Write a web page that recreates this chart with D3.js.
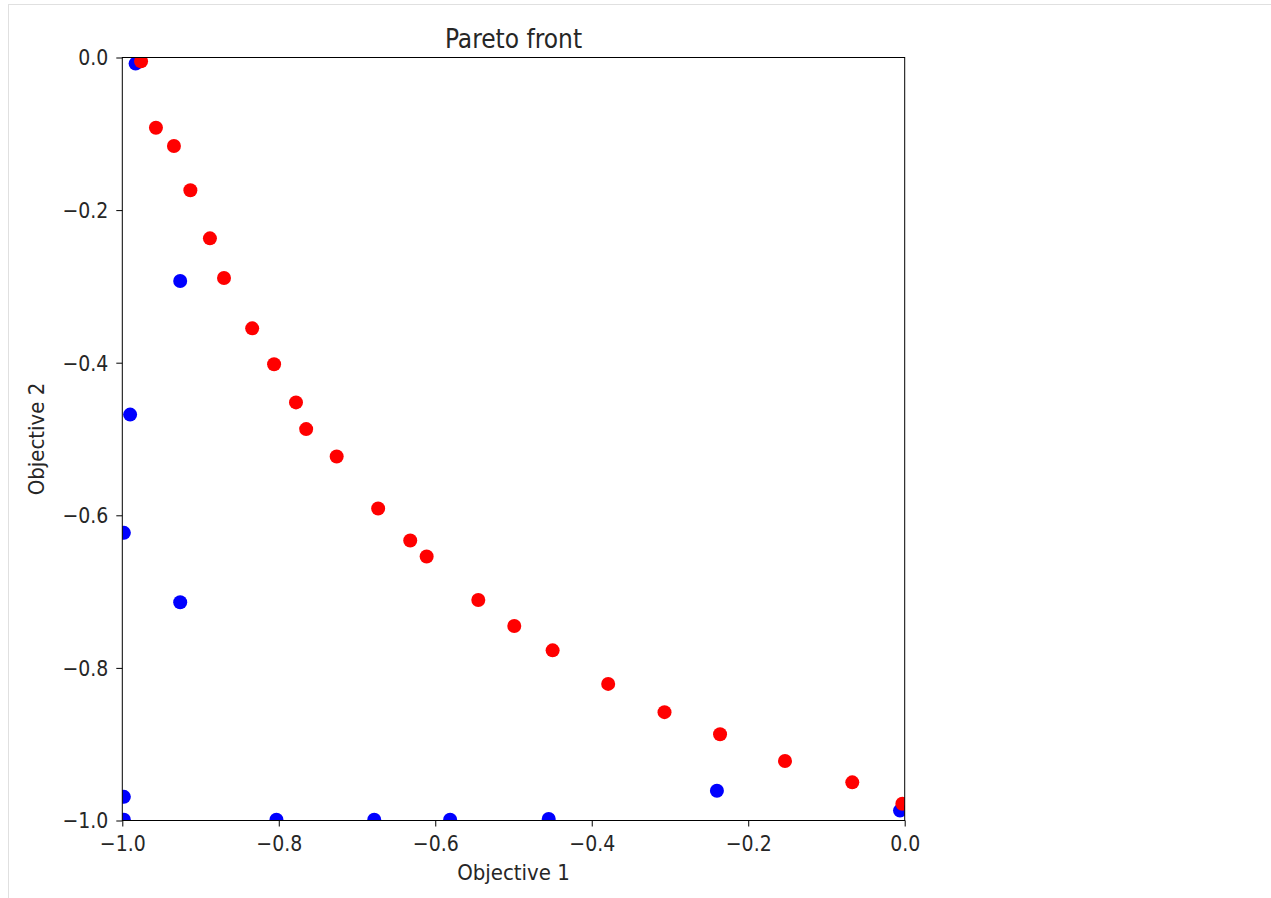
<!DOCTYPE html>
<html>
<head>
<meta charset="utf-8">
<script src="https://cdn.jsdelivr.net/npm/d3@7"></script>
<style>
  body { margin: 0; background: #fff; }
  svg { display: block; }
  .tick text { font-family: "DejaVu Sans Condensed", "DejaVu Sans", sans-serif; font-size: 21px; fill: #262626; }
  .lbl { font-family: "DejaVu Sans Condensed", "DejaVu Sans", sans-serif; font-size: 22px; fill: #262626; }
  .title { font-family: "DejaVu Sans Condensed", "DejaVu Sans", sans-serif; font-size: 26px; fill: #262626; }
</style>
</head>
<body>
<svg id="svg" width="1271" height="898"></svg>
<script>
// population (blue) and pareto front (red)
var popX = [-0.983, -0.926, -0.990, -0.998, -0.926, -0.998, -0.998, -0.803, -0.678, -0.581, -0.455, -0.240, -0.006];
var popY = [-0.008, -0.293, -0.468, -0.623, -0.714, -0.969, -0.999, -0.999, -0.999, -0.999, -0.998, -0.961, -0.987];

var frontX = [-0.976, -0.957, -0.934, -0.913, -0.888, -0.870, -0.834, -0.806, -0.778, -0.765, -0.726, -0.673,
              -0.632, -0.611, -0.545, -0.499, -0.450, -0.379, -0.307, -0.236, -0.153, -0.067, -0.003];
var frontY = [-0.005, -0.092, -0.116, -0.174, -0.237, -0.289, -0.355, -0.402, -0.452, -0.487, -0.523, -0.591,
              -0.633, -0.654, -0.711, -0.745, -0.777, -0.821, -0.858, -0.887, -0.922, -0.950, -0.978];

var xTicks = [-1.0, -0.8, -0.6, -0.4, -0.2, 0.0];
var yTicks = [0.0, -0.2, -0.4, -0.6, -0.8, -1.0];

var svg = d3.select("#svg");

// notebook output frame
svg.append("line").attr("x1", 8).attr("x2", 1271).attr("y1", 4.5).attr("y2", 4.5)
  .attr("stroke", "#e0e0e0").attr("stroke-width", 1);
svg.append("line").attr("x1", 8.5).attr("x2", 8.5).attr("y1", 4).attr("y2", 898)
  .attr("stroke", "#e0e0e0").attr("stroke-width", 1);

var margin = {left: 122.3, top: 57.5},
    width = 782.4, height = 763;

var x = d3.scaleLinear().domain([-1, 0]).range([0, width]);
var y = d3.scaleLinear().domain([-1, 0]).range([height, 0]);

var fmt = function(d) { return d3.format(".1f")(d).replace("-", "\u2212"); };

var g = svg.append("g").attr("transform", "translate(" + margin.left + "," + margin.top + ")");

g.append("defs").append("clipPath").attr("id", "clip")
  .append("rect").attr("width", width).attr("height", height);

var pts = g.append("g").attr("clip-path", "url(#clip)");

pts.selectAll("circle.pop")
  .data(d3.range(popX.length))
  .enter().append("circle")
    .attr("class", "pop")
    .attr("cx", (i) => x(popX[i]))
    .attr("cy", (i) => y(popY[i]))
    .attr("r", 7)
    .attr("fill", "#0000ff");

pts.selectAll("circle.front")
  .data(d3.range(frontX.length))
  .enter().append("circle")
    .attr("class", "front")
    .attr("cx", (i) => x(frontX[i]))
    .attr("cy", (i) => y(frontY[i]))
    .attr("r", 7)
    .attr("fill", "#ff0000");

// axes
var xAxis = g.append("g")
  .attr("transform", "translate(0," + height + ")")
  .call(d3.axisBottom(x).tickValues(xTicks).tickFormat(fmt).tickSize(6).tickPadding(6));
var yAxis = g.append("g")
  .call(d3.axisLeft(y).tickValues(yTicks).tickFormat(fmt).tickSize(6).tickPadding(8));
xAxis.select(".domain").remove();
yAxis.select(".domain").remove();
xAxis.selectAll(".tick line").attr("stroke", "#000");
yAxis.selectAll(".tick line").attr("stroke", "#000");
xAxis.selectAll(".tick text").attr("dy", "0.9em");
yAxis.selectAll(".tick text").attr("dy", "0.35em");

g.append("rect")
  .attr("width", width).attr("height", height)
  .attr("fill", "none").attr("stroke", "#000").attr("stroke-width", 1);

g.append("text").attr("class", "title")
  .attr("x", width / 2).attr("y", -10)
  .attr("text-anchor", "middle")
  .text("Pareto front");

g.append("text").attr("class", "lbl")
  .attr("x", width / 2).attr("y", height + 59)
  .attr("text-anchor", "middle")
  .text("Objective 1");

g.append("text").attr("class", "lbl")
  .attr("transform", "translate(-78," + (height / 2) + ") rotate(-90)")
  .attr("text-anchor", "middle")
  .text("Objective 2");
</script>
</body>
</html>
